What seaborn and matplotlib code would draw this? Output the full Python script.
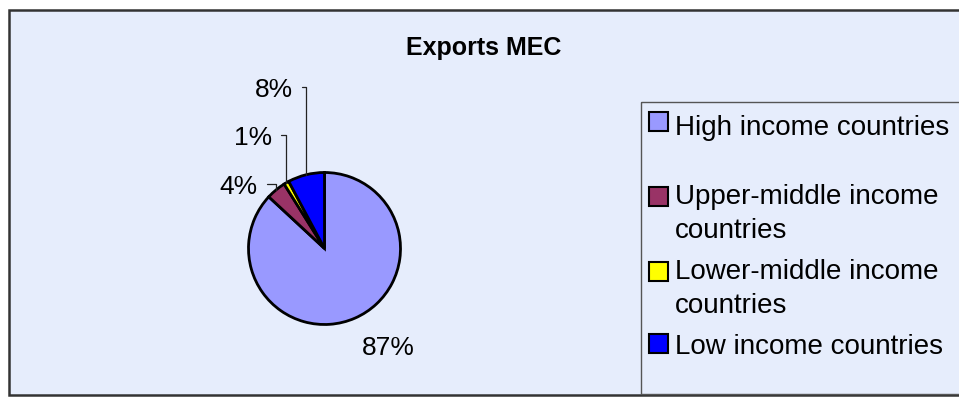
import matplotlib
matplotlib.use("Agg")
import numpy as np
import seaborn as sns
from matplotlib import pyplot as plt
from matplotlib.patches import Rectangle

# data
groups = ["High income countries", "Upper-middle income\ncountries",
          "Lower-middle income\ncountries", "Low income countries"]
shares = [86.9, 4.2, 1.1, 7.8]
colors = ["#9999FF", "#993366", "#FFFF00", "#0000FF"]
title = "Exports MEC"

sns.set_theme(style="white")
plt.rcParams["font.family"] = ["Liberation Sans", "DejaVu Sans"]
plt.rcParams["text.color"] = "black"
palette = sns.color_palette(colors)

fig = plt.figure(figsize=(9.59, 4.10), dpi=100, facecolor="white")
ax = fig.add_axes([0, 0, 1, 1])

# pie in pixel coordinates (y grows downwards)
cx, cy, r = 324.5, 249.5, 76
wedges, _ = ax.pie(shares, colors=palette, startangle=-90, counterclock=True,
                   center=(cx, cy), radius=r,
                   wedgeprops=dict(edgecolor="black", linewidth=2.0))
ax.set_xlim(0, 959)
ax.set_ylim(410, 0)
ax.set_aspect("auto")
ax.axis("off")

# chart area and legend frame
ax.add_patch(Rectangle((8.5, 10.5), 960, 385, facecolor="#E6EDFC",
                       edgecolor="#333333", lw=1.8, zorder=0))
ax.add_patch(Rectangle((640.5, 102.5), 330, 292.5, facecolor="none",
                       edgecolor="#555555", lw=1.0, zorder=1))

ax.text(484, 55, title, ha="center", va="baseline", fontsize=18,
        fontweight="bold")

# percentage labels
label_pos = [(388, 355), (258, 194), (272, 145), (293, 97)]
for i, (w, v, (tx, ty)) in enumerate(zip(wedges, shares, label_pos)):
    txt = f"{v:.0f}%"
    if i == 0:
        ax.text(tx, ty, txt, ha="center", va="baseline", fontsize=19)
        continue
    th = np.deg2rad((w.theta1 + w.theta2) / 2)
    px, py = cx + r * np.cos(th), cy + r * np.sin(th)
    ax.annotate(txt, xy=(px, py), xytext=(tx, ty), ha="right", va="baseline",
                fontsize=19,
                arrowprops=dict(arrowstyle="-", color="#222222", lw=0.9,
                                connectionstyle="angle,angleA=0,angleB=90,rad=0",
                                relpos=(1, 0.6), shrinkA=4, shrinkB=0))

# legend (Excel style, square next to first line)
square_tops = [113, 188, 263, 335]
baselines = [135, 206, 281, 354]
line_step = 32
for lab, col, top, base in zip(groups, palette, square_tops, baselines):
    ax.add_patch(Rectangle((649, top), 19, 19, facecolor=col,
                           edgecolor="black", lw=1.5, zorder=3))
    nlines = lab.count("\n")
    ax.text(675, base + line_step * nlines, lab, ha="left", va="baseline",
            fontsize=20, linespacing=1.38)

fig.savefig("out.png", dpi=100, facecolor="white")
